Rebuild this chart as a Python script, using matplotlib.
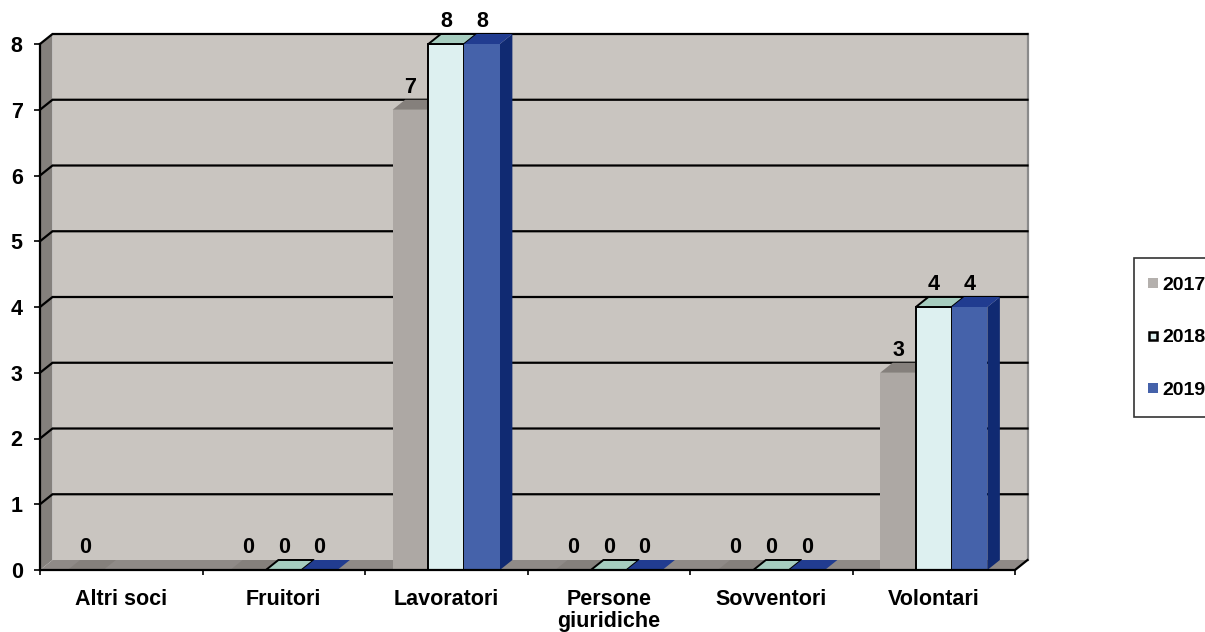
import numpy as np
import matplotlib
matplotlib.use("Agg")
import matplotlib.pyplot as plt
from matplotlib.patches import Polygon
from matplotlib.lines import Line2D

plt.rcParams['font.family'] = ['Liberation Sans', 'DejaVu Sans']
plt.rcParams['font.weight'] = 'bold'

# ---- data ----
categories = ['Altri soci', 'Fruitori', 'Lavoratori', 'Persone\ngiuridiche',
              'Sovventori', 'Volontari']
years = ['2017', '2018', '2019']
v2017 = [0, 0, 7, 0, 0, 3]
v2018 = [np.nan, 0, 8, 0, 0, 4]
v2019 = [np.nan, 0, 8, 0, 0, 4]
yticks = [0, 1, 2, 3, 4, 5, 6, 7, 8]

series = [v2017, v2018, v2019]
# (front, top, side, edge)
styles = [
    ('#ada8a4', '#85807c', '#6f6b68', None),
    ('#ddf0f0', '#a6cdbf', '#9cc3b5', 'black'),
    ('#4562aa', '#213c90', '#102a72', None),
]
FS = 15.5
LEG_FS = 14

W, H, DPI = 1205, 632, 100
fig = plt.figure(figsize=(W / DPI, H / DPI), dpi=DPI, facecolor='white')
# axes = front plane of the 3-D box
ax = fig.add_axes([40 / W, (H - 570) / H, 975 / W, 526 / H])
ncat = len(categories)
ymax = yticks[-1]
ax.set_xlim(0, ncat)
ax.set_ylim(0, ymax)
ax.patch.set_visible(False)
for s in ax.spines.values():
    s.set_visible(False)

# depth of the box, in data units
DX = 12.5 / 162.5
DY = 10 / 65.75

def poly(pts, fc, ec='none', lw=0, z=1):
    ax.add_patch(Polygon(pts, closed=True, facecolor=fc, edgecolor=ec,
                         linewidth=lw, zorder=z, clip_on=False,
                         joinstyle='miter'))

# back wall, side wall, floor
poly([(DX, DY), (ncat + DX, DY), (ncat + DX, ymax + DY), (DX, ymax + DY)], '#c9c5c0', z=1)
poly([(0, 0), (0, ymax), (DX, ymax + DY), (DX, DY)], '#84807c', z=1)
poly([(0, 0), (ncat, 0), (ncat + DX, DY), (DX, DY)], '#8f8a87', z=1)

# wall edges and gridlines
ax.plot([ncat + DX, ncat + DX], [DY, ymax + DY], color='#8a8a8a', lw=1.6,
        zorder=2, clip_on=False)
for v in yticks[1:]:
    ax.plot([0, DX, ncat + DX], [v, v + DY, v + DY], color='black', lw=1.6,
            zorder=2, clip_on=False, solid_joinstyle='miter')
ax.plot([0, 0], [0, ymax], color='black', lw=1.6, zorder=2, clip_on=False)

# bars
x_off = [0.17, 0.39, 0.61]
bw = 0.22
for i in range(ncat):
    for k, vals in enumerate(series):
        v = vals[i]
        if np.isnan(v):
            continue
        front, top, side, edge = styles[k]
        lw = 1.4 if edge else 0
        ec = edge if edge else 'none'
        x0 = i + x_off[k]
        x1 = x0 + bw
        z = 3 + i * 0.1 + k * 0.01
        if v > 0:
            poly([(x1, 0), (x1 + DX, DY), (x1 + DX, v + DY), (x1, v)], side, ec, lw, z)
            poly([(x0, 0), (x1, 0), (x1, v), (x0, v)], front, ec, lw, z)
        poly([(x0, v), (x1, v), (x1 + DX, v + DY), (x0 + DX, v + DY)], top, ec, lw, z)
        ax.text((x0 + x1) / 2, v + 0.34, f'{int(v)}', ha='center', va='center',
                fontsize=FS, fontweight='bold', zorder=10)

# floor front and right edges
ax.plot([0, ncat, ncat + DX], [0, 0, DY], color='black', lw=1.6, zorder=8,
        clip_on=False, solid_joinstyle='miter')

# ticks
ax.set_yticks(yticks)
ax.set_yticklabels([str(t) for t in yticks], fontsize=FS, fontweight='bold')
ax.tick_params(axis='y', direction='out', length=4.5, width=1.2, pad=8)
ax.set_xticks(np.arange(ncat) + 0.5)
ax.set_xticklabels(categories, fontsize=FS, fontweight='bold')
ax.set_xticks(np.arange(ncat + 1), minor=True)
ax.tick_params(axis='x', which='major', length=0, pad=13.5)
ax.tick_params(axis='x', which='minor', direction='out', length=3.6, width=1.2)
for lbl in ax.get_xticklabels():
    lbl.set_linespacing(1.05)

# legend
handles = [
    Line2D([], [], ls='', marker='s', markersize=7, markerfacecolor='#b4b0ad',
           markeredgecolor='#b4b0ad', markeredgewidth=0),
    Line2D([], [], ls='', marker='s', markersize=6, markerfacecolor='#ddf0f0',
           markeredgecolor='black', markeredgewidth=1.8),
    Line2D([], [], ls='', marker='s', markersize=7, markerfacecolor='#4562aa',
           markeredgecolor='#4562aa', markeredgewidth=0),
]
leg = fig.legend(handles, years, loc='upper left',
                 bbox_to_anchor=(1134 / W, (H - 258) / H),
                 bbox_transform=fig.transFigure, frameon=True, fancybox=False,
                 prop={'size': LEG_FS, 'weight': 'bold'}, handlelength=0.05,
                 handletextpad=0.44, labelspacing=1.78, borderpad=0.95,
                 borderaxespad=0)
leg.get_frame().set_edgecolor('black')
leg.get_frame().set_linewidth(1.2)

fig.savefig('out.png', dpi=DPI, facecolor='white')
